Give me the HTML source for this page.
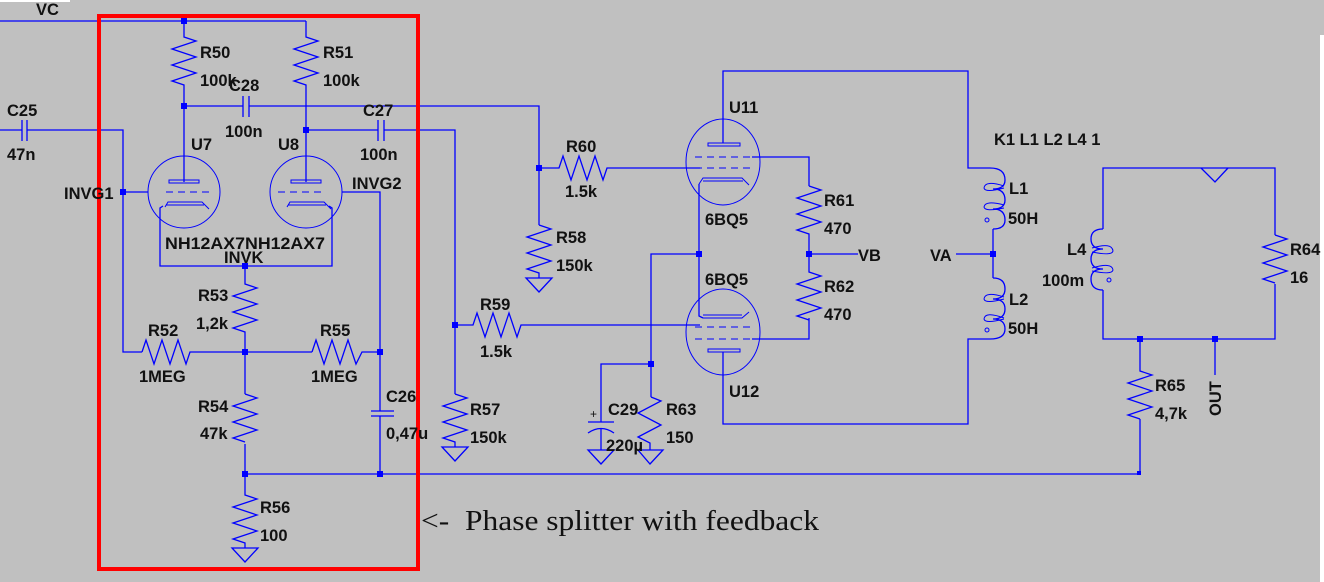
<!DOCTYPE html>
<html><head><meta charset="utf-8"><style>
html,body{margin:0;padding:0;background:#c0c0c0;}
svg{display:block;}
text{font-family:"Liberation Sans",sans-serif;font-weight:bold;font-size:16.5px;fill:#111;}
</style></head><body>
<svg width="1324" height="582" viewBox="0 0 1324 582" xmlns="http://www.w3.org/2000/svg">
<rect width="1324" height="582" fill="#c0c0c0"/>
<rect x="0" y="0" width="70" height="2" fill="#fff"/>
<rect x="1320" y="35" width="4" height="547" fill="#fff"/>
<g stroke="#0000ff" stroke-width="1.3" fill="none">
<polyline points="0,21 306,21"/>
<polyline points="184,21 184,37 196,41 172,49 196,57 172,65 196,73 172,81 184,85 184,182"/>
<polyline points="306,21 306,37 318,41 294,49 318,57 294,65 318,73 294,81 306,85 306,182"/>
<polyline points="184,106 243,106"/><polyline points="249,106 539,106 539,225"/>
<line x1="243" y1="96" x2="243" y2="117"/><line x1="249" y1="96" x2="249" y2="117"/>
<polyline points="306,130 378,130"/><polyline points="384,130 455,130 455,395"/>
<line x1="378" y1="120" x2="378" y2="141"/><line x1="384" y1="120" x2="384" y2="141"/>
<polyline points="0,130 22,130"/><polyline points="27,130 123,130 123,352 142,352"/>
<line x1="22" y1="120" x2="22" y2="141"/><line x1="27" y1="120" x2="27" y2="141"/>
<circle cx="184" cy="192" r="36" stroke-width="1"/>
<circle cx="306" cy="192" r="36" stroke-width="1"/>
<rect x="169" y="180" width="30" height="3" stroke-width="1"/>
<rect x="291" y="180" width="30" height="3" stroke-width="1"/>
<line x1="166" y1="192" x2="212" y2="192" stroke-dasharray="7,5" stroke-width="1"/>
<line x1="278" y1="192" x2="324" y2="192" stroke-dasharray="7,5" stroke-width="1"/>
<polyline points="123,192 148,192"/>
<polyline points="342,192 380,192 380,411"/>
<polyline points="165,207 168,202 202,202 209,209" stroke-width="1"/>
<line x1="166" y1="205" x2="204" y2="205" stroke-width="1"/>
<polyline points="287,207 290,202 324,202 331,209" stroke-width="1"/>
<line x1="288" y1="205" x2="326" y2="205" stroke-width="1"/>
<polyline points="163,206 160,208 160,266 332,266 332,208 329,206"/>
<polyline points="245,266 245,284 257,288 233,296 257,304 233,312 257,320 233,328 245,332 245,474"/>
<polyline points="142,352 146,340 154,364 162,340 170,364 178,340 186,364 190,352 312,352"/>
<polyline points="312,352 316,340 324,364 332,340 340,364 348,340 356,364 362,352 380,352"/>
<rect x="240" y="394" width="10" height="50" fill="#c0c0c0" stroke="none"/>
<polyline points="245,394 257,398 233,406 257,414 233,422 257,430 233,438 245,442"/>
<line x1="371" y1="411" x2="394" y2="411"/><line x1="371" y1="416" x2="394" y2="416"/>
<polyline points="380,416 380,474"/>
<polyline points="245,474 1140,474 1140,419"/>
<polyline points="245,474 245,495 257,499 233,507 257,515 233,523 257,531 233,539 245,543 245,548"/>
<polygon points="232,548 258,548 245,562"/>
<polyline points="455,325 473,325 477,313 485,337 493,313 501,337 509,313 517,337 521,325 700,325"/>
<rect x="450" y="394" width="10" height="50" fill="#c0c0c0" stroke="none"/>
<polyline points="455,394 467,398 443,406 467,414 443,422 467,430 443,438 455,442 455,447"/>
<polygon points="442,447 468,447 455,461"/>
<polyline points="539,168 559,168 563,156 571,180 579,156 587,180 595,156 603,180 607,168 700,168"/>
<polyline points="539,225 551,229 527,237 551,245 527,253 551,261 527,269 539,273 539,278"/>
<polygon points="526,278 552,278 539,292"/>
<ellipse cx="723" cy="162" rx="37" ry="43" stroke-width="1"/>
<rect x="708" y="143" width="32" height="3" stroke-width="1"/>
<polyline points="723,143 723,71 968,71 968,168 990,168"/>
<line x1="695" y1="157" x2="752" y2="157" stroke-dasharray="7,5" stroke-width="1"/>
<line x1="695" y1="168" x2="752" y2="168" stroke-dasharray="7,5" stroke-width="1"/>
<polyline points="752,157 809,157 809,186"/>
<polyline points="699,184 703,178 742,178 749,185" stroke-width="1"/>
<line x1="703" y1="181" x2="743" y2="181" stroke-width="1"/>
<polyline points="699,184 699,316 703,318"/>
<polyline points="699,254 651,254 651,397"/>
<polyline points="651,364 601,364 601,422"/>
<ellipse cx="723" cy="332" rx="37" ry="43" stroke-width="1"/>
<polyline points="703,318 742,318 749,312" stroke-width="1"/>
<line x1="703" y1="315" x2="742" y2="315" stroke-width="1"/>
<line x1="695" y1="327" x2="752" y2="327" stroke-dasharray="7,5" stroke-width="1"/>
<line x1="695" y1="339" x2="752" y2="339" stroke-dasharray="7,5" stroke-width="1"/>
<rect x="708" y="349" width="32" height="3" stroke-width="1"/>
<polyline points="723,352 723,424 968,424 968,339 990,339"/>
<polyline points="752,339 809,339 809,318"/>
<polyline points="809,186 821,190 797,198 821,206 797,214 821,222 797,230 809,234 809,272 821,276 797,284 821,292 797,300 821,308 797,316 809,320"/>
<polyline points="809,254 858,254"/>
<line x1="588" y1="422" x2="614" y2="422"/>
<path d="M588,433 Q601,424 614,433"/>
<polyline points="601,428 601,450"/>
<polygon points="588,450 614,450 601,464"/>
<polyline points="651,397 661,401 638,413 661,425 638,437 650,443 650,450"/>
<polygon points="638,450 663,450 650,464"/>
<path d="M990,168 Q1005,168 1005,180 Q1005,189 993,189 Q1005,189 1005,200 Q1005,209 993,209 Q1005,209 1005,220 Q1005,229 993,229"/>
<path d="M1004,186 Q985,180 984,188 Q985,193 1004,188" stroke-width="1"/>
<path d="M1004,205 Q985,200 984,207 Q985,212 1004,208" stroke-width="1"/>
<circle cx="987" cy="220" r="2" stroke-width="1"/>
<polyline points="993,229 993,278"/>
<polyline points="956,254 993,254"/>
<path d="M993,278 Q1005,278 1005,289 Q1005,299 993,299 Q1005,299 1005,309 Q1005,319 993,319 Q1005,319 1005,329 Q1005,339 990,339"/>
<path d="M1004,297 Q985,291 984,299 Q985,304 1004,299" stroke-width="1"/>
<path d="M1004,318 Q985,311 984,319 Q985,324 1004,319" stroke-width="1"/>
<circle cx="987" cy="330" r="2" stroke-width="1"/>
<polyline points="1103,229 1103,168 1275,168 1275,235"/>
<polyline points="1201,168 1215,182 1228,168"/>
<path d="M1103,229 Q1091,229 1091,239 Q1091,249 1103,249 Q1091,249 1091,259 Q1091,269 1103,269 Q1091,269 1091,279 Q1091,290 1103,290"/>
<path d="M1092,248 Q1112,242 1113,251 Q1112,256 1092,252" stroke-width="1"/>
<path d="M1092,268 Q1112,262 1113,270 Q1112,275 1092,271" stroke-width="1"/>
<circle cx="1109" cy="280" r="2" stroke-width="1"/>
<polyline points="1103,290 1103,339 1275,339 1275,284"/>
<polyline points="1275,235 1287,239 1263,247 1287,255 1263,263 1287,271 1263,279 1275,283"/>
<polyline points="1140,339 1140,371 1152,375 1128,383 1152,391 1128,399 1152,407 1128,415 1140,419"/>
<polyline points="1215,339 1215,375"/>
</g>
<g fill="#0000ff">
<rect x="181" y="18" width="6" height="6"/>
<rect x="181" y="103" width="6" height="6"/>
<rect x="303" y="127" width="6" height="6"/>
<rect x="120" y="189" width="6" height="6"/>
<rect x="242" y="263" width="6" height="6"/>
<rect x="242" y="349" width="6" height="6"/>
<rect x="377" y="349" width="6" height="6"/>
<rect x="242" y="471" width="6" height="6"/>
<rect x="377" y="471" width="6" height="6"/>
<rect x="452" y="322" width="6" height="6"/>
<rect x="536" y="165" width="6" height="6"/>
<rect x="696" y="251" width="6" height="6"/>
<rect x="806" y="251" width="6" height="6"/>
<rect x="648" y="361" width="6" height="6"/>
<rect x="990" y="251" width="6" height="6"/>
<rect x="1137" y="336" width="6" height="6"/>
<rect x="1212" y="336" width="6" height="6"/>
<rect x="1137" y="471" width="4" height="4"/>
</g>
<rect x="99" y="16" width="319" height="553" fill="none" stroke="#ff0000" stroke-width="4"/>
<text x="36" y="15">VC</text>
<text x="200" y="58">R50</text><text x="200" y="86">100k</text>
<text x="229" y="91">C28</text><text x="225" y="137">100n</text>
<text x="323" y="58">R51</text><text x="323" y="86">100k</text>
<text x="7" y="116">C25</text><text x="7" y="160">47n</text>
<text x="363" y="116">C27</text><text x="360" y="160">100n</text>
<text x="191" y="150">U7</text><text x="278" y="150">U8</text>
<text x="64" y="199">INVG1</text><text x="352" y="189">INVG2</text>
<text x="165" y="249" textLength="160" lengthAdjust="spacingAndGlyphs">NH12AX7NH12AX7</text>
<text x="224" y="263">INVK</text>
<text x="198" y="301">R53</text><text x="196" y="329">1,2k</text>
<text x="148" y="336">R52</text><text x="139" y="382">1MEG</text>
<text x="320" y="336">R55</text><text x="311" y="382">1MEG</text>
<text x="198" y="412">R54</text><text x="200" y="439">47k</text>
<text x="386" y="402">C26</text><text x="386" y="439">0,47u</text>
<text x="260" y="513">R56</text><text x="260" y="541">100</text>
<text x="480" y="310">R59</text><text x="480" y="357">1.5k</text>
<text x="470" y="415">R57</text><text x="470" y="443">150k</text>
<text x="566" y="152">R60</text><text x="565" y="197">1.5k</text>
<text x="556" y="243">R58</text><text x="556" y="271">150k</text>
<text x="729" y="113">U11</text>
<text x="705" y="225">6BQ5</text><text x="705" y="285">6BQ5</text>
<text x="729" y="397">U12</text>
<text x="824" y="206">R61</text><text x="824" y="234">470</text>
<text x="824" y="292">R62</text><text x="824" y="320">470</text>
<text x="858" y="261">VB</text>
<text x="608" y="415">C29</text><text x="606" y="451">220µ</text>
<text x="590" y="418" style="font-weight:normal;font-size:12px">+</text>
<text x="666" y="415">R63</text><text x="666" y="443">150</text>
<text x="994" y="145">K1 L1 L2 L4 1</text>
<text x="1009" y="194">L1</text><text x="1008" y="224">50H</text>
<text x="930" y="261">VA</text>
<text x="1009" y="305">L2</text><text x="1008" y="334">50H</text>
<text x="1067" y="255">L4</text><text x="1042" y="286">100m</text>
<text x="1290" y="255">R64</text><text x="1290" y="283">16</text>
<text x="1155" y="391">R65</text><text x="1155" y="419">4,7k</text>
<text transform="translate(1221,416) rotate(-90)">OUT</text>
<text x="421" y="530" textLength="398" lengthAdjust="spacingAndGlyphs" xml:space="preserve" style="font-family:'Liberation Serif',serif;font-weight:normal;font-size:29px">&lt;-  Phase splitter with feedback</text>
</svg>
</body></html>
